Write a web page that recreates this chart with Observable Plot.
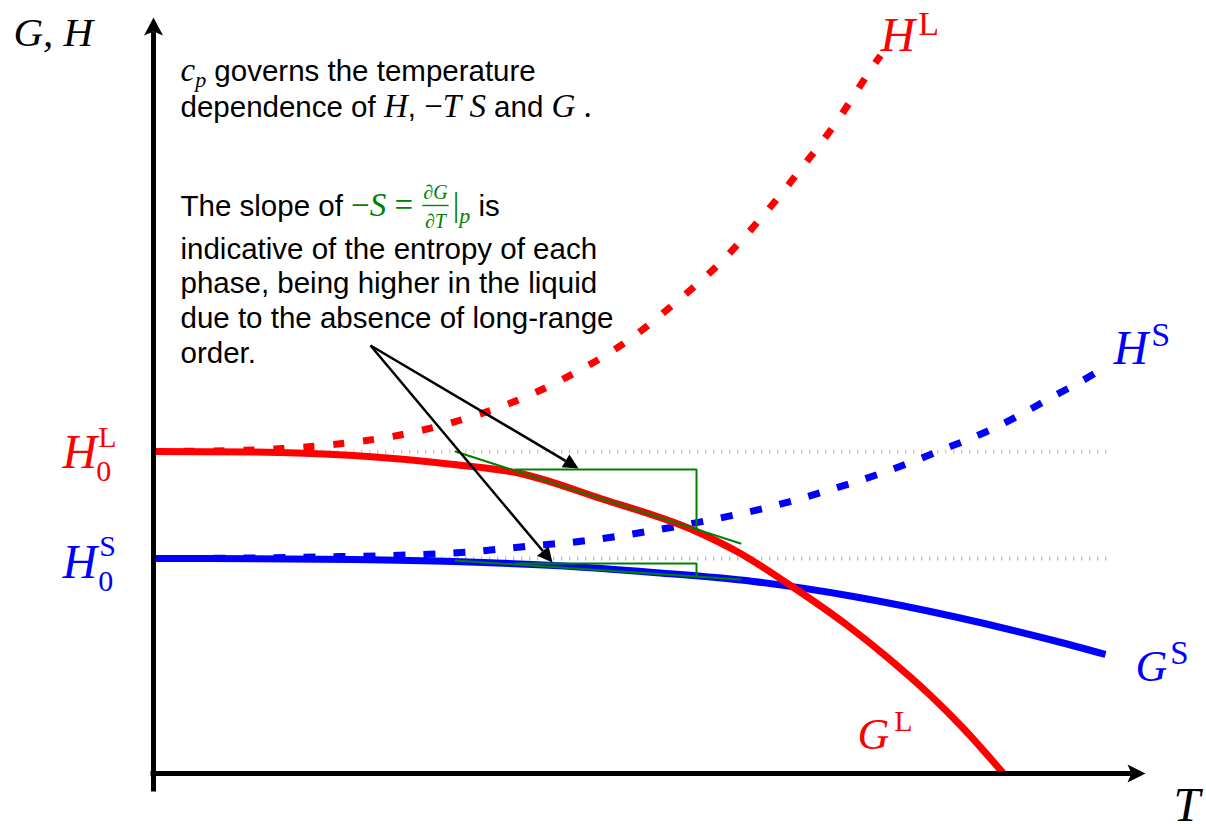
<!DOCTYPE html>
<html>
<head>
<meta charset="utf-8">
<script src="https://cdn.jsdelivr.net/npm/d3@7"></script>
<script src="https://cdn.jsdelivr.net/npm/@observablehq/plot@0.6"></script>
<style>
  html, body { margin: 0; padding: 0; background: #ffffff; }
  svg { display: block; }
</style>
</head>
<body>
<div id="chart"></div>
<script>
// ---- Curves (temperature T and energy in arbitrary units) ----
// Gibbs energy of the liquid, G^L
const gLiquidT = [0, 1, 2, 3, 3.67, 4.47, 5.43, 5.87, 6.37, 6.94, 7.34, 7.77, 8.10, 8.50];
const gLiquid  = [3.22, 3.215, 3.18, 3.09, 3.00, 2.75, 2.42, 2.20, 1.88, 1.48, 1.16, 0.78, 0.45, 0.0];
// Gibbs energy of the solid, G^S
const gSolidT = [0, 1, 2, 3, 4, 5, 6, 7, 8, 9, 9.52];
const gSolid  = [2.15, 2.148, 2.14, 2.12, 2.08, 2.01, 1.92, 1.77, 1.57, 1.33, 1.19];
// Enthalpy of the liquid, H^L
const hLiquidT = [0, 0.6, 1.3, 1.89, 2.49, 3.09, 3.66, 4.2, 4.73, 5.21, 5.66, 6.08, 6.47, 6.84, 7.18, 7.27];
const hLiquid  = [3.22, 3.225, 3.25, 3.30, 3.39, 3.54, 3.74, 4.00, 4.32, 4.70, 5.10, 5.56, 6.04, 6.53, 7.05, 7.18];
// Enthalpy of the solid, H^S
const hSolidT = [0, 1, 1.67, 3.07, 3.72, 4.34, 4.94, 5.54, 6.14, 6.71, 7.30, 7.87, 8.42, 8.96, 9.49, 9.55];
const hSolid  = [2.15, 2.155, 2.165, 2.21, 2.27, 2.33, 2.42, 2.53, 2.66, 2.82, 3.01, 3.23, 3.46, 3.75, 4.05, 4.09];
// Enthalpy levels at T = 0 and the extent of their guide lines
const h0Liquid = 3.22;
const h0Solid = 2.15;
const guideEndT = 9.57;

// ---- Slope construction (tangent and step) ----
const liquidTangentT = [3.02, 5.87];
const liquidTangent  = [3.22, 2.30];
const liquidStepT = [3.62, 5.43, 5.43];
const liquidStep  = [3.04, 3.04, 2.45];
const solidTangentT = [3.02, 5.87];
const solidTangent  = [2.13, 1.94];
const solidStepT = [3.62, 5.43, 5.43];
const solidStep  = [2.10, 2.10, 1.98];

// ---- Pointer arrows from the text to the slope triangles ----
const pointerFrom = [2.17, 4.28];
const pointerTipsT = [4.25, 3.99];
const pointerTips  = [3.05, 2.11];

// ---- Axes ----
const axisTopV = 7.56;
const axisBottomV = -0.18;
const axisLeftT = -0.03;
const axisRightT = 9.92;

// ---- Colours and fonts ----
const RED = "#ff0000", BLUE = "#0000ff", GREEN = "#008000", INK = "#000000";
const SANS = "'Liberation Sans', Arial, Helvetica, sans-serif";
const SERIF = "'Liberation Serif', 'Times New Roman', serif";
const SANS_SIZE = 29.5, MATH_SIZE = 33;

const rows = (ts, vs) => ts.map((T, i) => ({T, v: vs[i]}));

// Filled arrowhead polygon pointing from `from` to `tip` (data units, 1 unit = 100px on both axes)
function headPolygon(id, from, tip, len, half, notch) {
  const dx = tip[0] - from[0], dy = tip[1] - from[1];
  const L = Math.hypot(dx, dy);
  const ux = dx / L, uy = dy / L, px = -uy, py = ux;
  const bx = tip[0] - ux * len, by = tip[1] - uy * len;
  const nx = tip[0] - ux * (len - notch), ny = tip[1] - uy * (len - notch);
  return {
    shaftEnd: [nx, ny],
    poly: [
      {id, T: tip[0], v: tip[1]},
      {id, T: bx + px * half, v: by + py * half},
      {id, T: nx, v: ny},
      {id, T: bx - px * half, v: by - py * half},
      {id, T: tip[0], v: tip[1]}
    ]
  };
}

const yHead = headPolygon("y", [0, 0], [0, axisTopV], 0.18, 0.095, 0.04);
const xHead = headPolygon("x", [0, 0], [axisRightT, 0], 0.18, 0.09, 0.04);
const pointers = pointerTipsT.map((T, i) => headPolygon("p" + i, pointerFrom, [T, pointerTips[i]], 0.15, 0.075, 0));

const axisSegments = [
  {id: "y", T: 0, v: axisBottomV}, {id: "y", T: 0, v: yHead.shaftEnd[1]},
  {id: "x", T: axisLeftT, v: 0}, {id: "x", T: xHead.shaftEnd[0], v: 0}
];
const pointerShafts = pointers.map(p => ({x1: pointerFrom[0], y1: pointerFrom[1], x2: p.shaftEnd[0], y2: p.shaftEnd[1]}));
const heads = [...yHead.poly, ...xHead.poly, ...pointers.flatMap(p => p.poly)];

// ---- Text (anchor = start of baseline; runs carry font and sub/superscript shifts) ----
const labels = [
  {T: -1.40, v: 7.28, color: INK, runs: [{t: "G, H", f: "mi", size: 41}]},
  {T: 10.20, v: -0.47, color: INK, runs: [{t: "T", f: "mi", size: 48}]},
  {T: 7.27, v: 7.23, color: RED, runs: [{t: "H", f: "mi", size: 48}, {t: "L", f: "mu", size: 34, shift: -16, dx: 3}]},
  {T: 9.60, v: 4.10, color: BLUE, runs: [{t: "H", f: "mi", size: 48}, {t: "S", f: "mu", size: 34, shift: -18, dx: 3}]},
  {T: 9.82, v: 0.93, color: BLUE, runs: [{t: "G", f: "mi", size: 44}, {t: "S", f: "mu", size: 33, shift: -17, dx: 3}]},
  {T: 7.04, v: 0.25, color: RED, runs: [{t: "G", f: "mi", size: 44}, {t: "L", f: "mu", size: 30, shift: -18, dx: 5}]},
  {T: -0.91, v: 3.06, color: RED, runs: [{t: "H", f: "mi", size: 48}, {t: "L", f: "mu", size: 30, shift: -21, dx: 1}, {t: "0", f: "mu", size: 30, shift: 13, dx: -2, back: true}]},
  {T: -0.91, v: 1.96, color: BLUE, runs: [{t: "H", f: "mi", size: 48}, {t: "S", f: "mu", size: 30, shift: -22, dx: 2}, {t: "0", f: "mu", size: 30, shift: 13, dx: -1, back: true}]},
  {T: 0.27, v: 6.93, color: INK, runs: [{t: "c", f: "mi"}, {t: "p", f: "mi", size: 22, shift: 6}, {t: " governs the temperature", f: "sans"}]},
  {T: 0.27, v: 6.57, color: INK, runs: [{t: "dependence of ", f: "sans"}, {t: "H", f: "mi"}, {t: ", ", f: "sans"}, {t: "\u2212", f: "mu"}, {t: "T", f: "mi"}, {t: " ", f: "mu"}, {t: "S", f: "mi"}, {t: " and ", f: "sans"}, {t: "G", f: "mi"}, {t: " .", f: "mu"}]},
  {T: 0.27, v: 5.58, color: INK, runs: [
    {t: "The slope of ", f: "sans"},
    {t: "\u2212", f: "mu", color: GREEN}, {t: "S", f: "mi", color: GREEN}, {t: " = ", f: "mu", color: GREEN},
    {frac: ["\u2202G", "\u2202T"], f: "mi", size: 20, color: GREEN},
    {t: "|", f: "mu", color: GREEN}, {t: "p", f: "mi", size: 22, shift: 7, color: GREEN},
    {t: " is", f: "sans"}]},
  {T: 0.27, v: 5.15, color: INK, runs: [{t: "indicative of the entropy of each", f: "sans"}]},
  {T: 0.27, v: 4.81, color: INK, runs: [{t: "phase, being higher in the liquid", f: "sans"}]},
  {T: 0.27, v: 4.46, color: INK, runs: [{t: "due to the absence of long-range", f: "sans"}]},
  {T: 0.27, v: 4.11, color: INK, runs: [{t: "order.", f: "sans"}]}
];
const plainOf = runs => runs.map(r => r.frac ? r.frac.join("/") : r.t).join("");
const labelByText = new Map(labels.map(d => [plainOf(d.runs), d]));

const plot = Plot.plot({
  width: 1206,
  height: 830,
  margin: 0,
  x: {domain: [-1.53, 10.53], axis: null},
  y: {domain: [-0.57, 7.73], axis: null},
  marks: [
    // faint guides at the T = 0 enthalpies
    Plot.ruleY([h0Liquid], {x1: 0, x2: guideEndT, stroke: "#ff7a7a", strokeWidth: 4, strokeDasharray: "1.3,6.7", strokeOpacity: 0.55}),
    Plot.ruleY([h0Solid], {x1: 0, x2: guideEndT, stroke: "#7a7aff", strokeWidth: 4, strokeDasharray: "1.3,6.7", strokeOpacity: 0.55}),
    // enthalpies (dashed)
    Plot.line(rows(hLiquidT, hLiquid), {x: "T", y: "v", stroke: RED, strokeWidth: 7, strokeDasharray: "11,19", strokeLinecap: "butt", curve: "monotone-x"}),
    Plot.line(rows(hSolidT, hSolid), {x: "T", y: "v", stroke: BLUE, strokeWidth: 7, strokeDasharray: "12,18", strokeLinecap: "butt", curve: "monotone-x"}),
    // Gibbs energies (solid)
    Plot.line(rows(gSolidT, gSolid), {x: "T", y: "v", stroke: BLUE, strokeWidth: 7, strokeLinecap: "butt", curve: "monotone-x"}),
    Plot.line(rows(gLiquidT, gLiquid), {x: "T", y: "v", stroke: RED, strokeWidth: 7, strokeLinecap: "butt", curve: "monotone-x"}),
    // slope construction
    Plot.line(rows(liquidTangentT, liquidTangent), {x: "T", y: "v", stroke: GREEN, strokeWidth: 2}),
    Plot.line(rows(liquidStepT, liquidStep), {x: "T", y: "v", stroke: GREEN, strokeWidth: 2, strokeLinejoin: "miter"}),
    Plot.line(rows(solidTangentT, solidTangent), {x: "T", y: "v", stroke: GREEN, strokeWidth: 2}),
    Plot.line(rows(solidStepT, solidStep), {x: "T", y: "v", stroke: GREEN, strokeWidth: 2, strokeLinejoin: "miter"}),
    // pointer arrows
    Plot.link(pointerShafts, {x1: "x1", y1: "y1", x2: "x2", y2: "y2", stroke: INK, strokeWidth: 2.5}),
    // axes
    Plot.line(axisSegments, {x: "T", y: "v", z: "id", stroke: INK, strokeWidth: 5, strokeLinecap: "butt"}),
    Plot.line(heads, {x: "T", y: "v", z: "id", fill: INK, stroke: "none", curve: "linear"}),
    // text
    Plot.text(labels, {x: "T", y: "v", text: d => plainOf(d.runs), textAnchor: "start", fill: INK})
  ]
});

document.getElementById("chart").appendChild(plot);
const svg = plot.tagName.toLowerCase() === "svg" ? plot : plot.querySelector("svg");

// Rebuild each label as positioned tspans so that italics, sub/superscripts and fractions render
function renderRich(el, label) {
  const ns = "http://www.w3.org/2000/svg";
  const num = a => { const s = el.getAttribute(a); return s != null && s !== "" && !isNaN(+s) ? +s : 0; };
  const X = num("x"), Y = num("y");
  el.textContent = "";
  el.setAttribute("text-anchor", "start");
  el.style.whiteSpace = "pre";
  const span = (text, r, size) => {
    const ts = document.createElementNS(ns, "tspan");
    ts.setAttribute("font-family", r.f === "sans" ? SANS : SERIF);
    ts.setAttribute("font-style", r.f === "mi" ? "italic" : "normal");
    ts.setAttribute("font-size", size);
    ts.setAttribute("fill", r.color || label.color);
    ts.setAttribute("text-anchor", "start");
    ts.textContent = text;
    el.appendChild(ts);
    return ts;
  };
  let cursor = 0, prevStart = 0;
  for (const r of label.runs) {
    const size = r.size || (r.f === "sans" ? SANS_SIZE : MATH_SIZE);
    if (r.frac) {
      const n = span(r.frac[0], r, size), d = span(r.frac[1], r, size);
      const wn = n.getComputedTextLength(), wd = d.getComputedTextLength();
      const W = Math.max(wn, wd) + 4;
      n.setAttribute("x", X + cursor + (W - wn) / 2); n.setAttribute("y", Y - 17);
      d.setAttribute("x", X + cursor + (W - wd) / 2); d.setAttribute("y", Y + 12);
      const bar = document.createElementNS(ns, "line");
      bar.setAttribute("x1", X + cursor + 1); bar.setAttribute("x2", X + cursor + W - 1);
      bar.setAttribute("y1", Y - 10); bar.setAttribute("y2", Y - 10);
      bar.setAttribute("stroke", r.color || label.color);
      bar.setAttribute("stroke-width", 1.4);
      if (el.getAttribute("transform")) bar.setAttribute("transform", el.getAttribute("transform"));
      el.parentNode.appendChild(bar);
      prevStart = cursor;
      cursor += W + 3;
      continue;
    }
    const start = (r.back ? prevStart : cursor) + (r.dx || 0);
    const ts = span(r.t, r, size);
    ts.setAttribute("x", X + start);
    ts.setAttribute("y", Y + (r.shift || 0));
    const w = ts.getComputedTextLength();
    prevStart = start;
    cursor = Math.max(cursor, start + w);
  }
}

svg.querySelectorAll("text").forEach(el => {
  const label = labelByText.get(el.textContent);
  if (label) renderRich(el, label);
});
</script>
</body>
</html>
